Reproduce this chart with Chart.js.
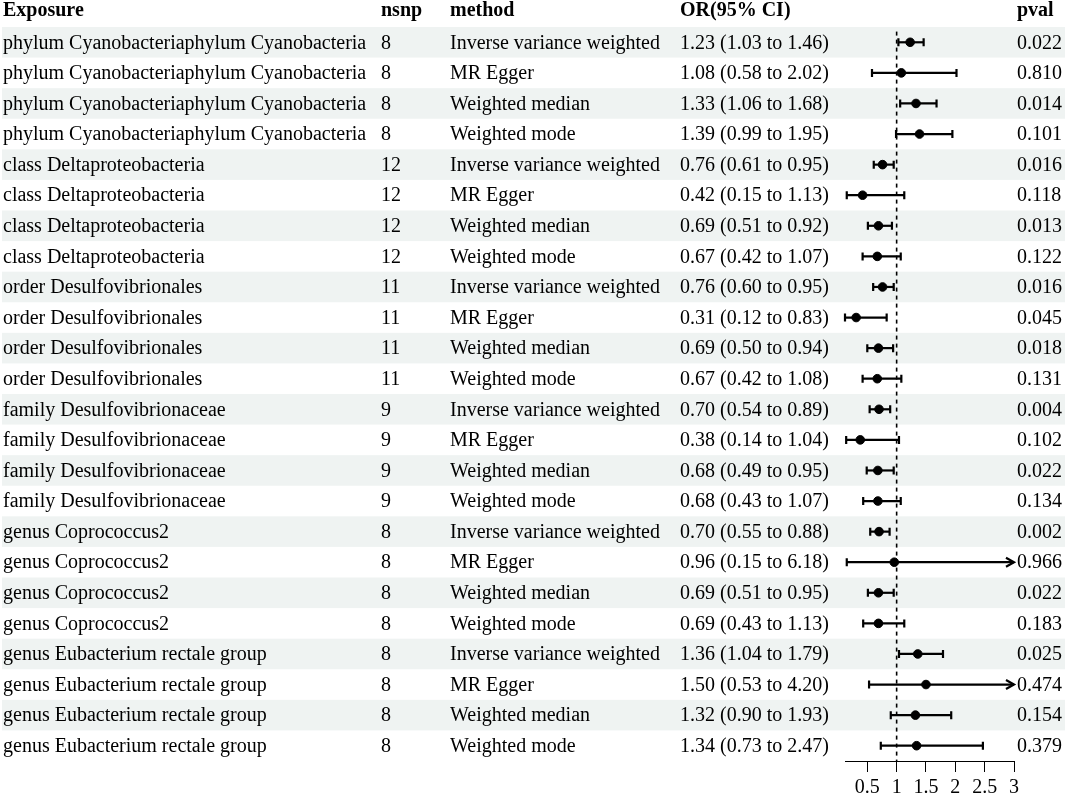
<!DOCTYPE html>
<html>
<head>
<meta charset="utf-8">
<script src="https://cdn.jsdelivr.net/npm/chart.js@4.4.1/dist/chart.umd.min.js"></script>
<style>
html,body{margin:0;padding:0;background:#fff;}
#wrap{width:1065px;height:794px;position:relative;}
</style>
</head>
<body>
<div id="wrap"><canvas id="c" width="1065" height="794"></canvas></div>
<script>
const exposures = [
  "phylum Cyanobacteriaphylum Cyanobacteria","phylum Cyanobacteriaphylum Cyanobacteria","phylum Cyanobacteriaphylum Cyanobacteria","phylum Cyanobacteriaphylum Cyanobacteria",
  "class Deltaproteobacteria","class Deltaproteobacteria","class Deltaproteobacteria","class Deltaproteobacteria",
  "order Desulfovibrionales","order Desulfovibrionales","order Desulfovibrionales","order Desulfovibrionales",
  "family Desulfovibrionaceae","family Desulfovibrionaceae","family Desulfovibrionaceae","family Desulfovibrionaceae",
  "genus Coprococcus2","genus Coprococcus2","genus Coprococcus2","genus Coprococcus2",
  "genus Eubacterium rectale group","genus Eubacterium rectale group","genus Eubacterium rectale group","genus Eubacterium rectale group"
];
const nsnp = [8,8,8,8,12,12,12,12,11,11,11,11,9,9,9,9,8,8,8,8,8,8,8,8];
const methodNames = ["Inverse variance weighted","MR Egger","Weighted median","Weighted mode"];
const methods = [];
for (let g = 0; g < 6; g++) methods.push(...methodNames);
const orValues = [1.23,1.08,1.33,1.39, 0.76,0.42,0.69,0.67, 0.76,0.31,0.69,0.67, 0.70,0.38,0.68,0.68, 0.70,0.96,0.69,0.69, 1.36,1.50,1.32,1.34];
const lowerCI  = [1.03,0.58,1.06,0.99, 0.61,0.15,0.51,0.42, 0.60,0.12,0.50,0.42, 0.54,0.14,0.49,0.43, 0.55,0.15,0.51,0.43, 1.04,0.53,0.90,0.73];
const upperCI  = [1.46,2.02,1.68,1.95, 0.95,1.13,0.92,1.07, 0.95,0.83,0.94,1.08, 0.89,1.04,0.95,1.07, 0.88,6.18,0.95,1.13, 1.79,4.20,1.93,2.47];
const pvals = ["0.022","0.810","0.014","0.101","0.016","0.118","0.013","0.122","0.016","0.045","0.018","0.131","0.004","0.102","0.022","0.134","0.002","0.966","0.022","0.183","0.025","0.474","0.154","0.379"];
const headers = ["Exposure","nsnp","method","OR(95% CI)","pval"];
const tickValues = [0.5,1,1.5,2,2.5,3];
const xMin = 0.12, xMax = 3, refLine = 1;

const FONT = "'Liberation Serif','Times New Roman',serif";
const colX = [3, 381, 450, 680, 1017];
const fmt = v => v.toFixed(2);

const tablePlugin = {
  id: 'forestTable',
  beforeDraw(chart) {
    const ctx = chart.ctx, y = chart.scales.y;
    ctx.save();
    for (let i = 0; i < exposures.length; i++) {
      if (i % 2 === 0) {
        const t = y.getPixelForValue(i - 0.5), b = y.getPixelForValue(i + 0.5);
        ctx.fillStyle = '#eff3f2';
        ctx.fillRect(2, t, 1063, b - t);
      }
    }
    ctx.restore();
  },
  beforeDatasetsDraw(chart) {
    const ctx = chart.ctx, x = chart.scales.x, y = chart.scales.y;
    ctx.save();
    const xr = x.getPixelForValue(refLine);
    ctx.strokeStyle = '#000';
    ctx.lineWidth = 1.6;
    ctx.setLineDash([4, 4]);
    ctx.beginPath();
    ctx.moveTo(xr, y.getPixelForValue(-0.35));
    ctx.lineTo(xr, chart.chartArea.bottom);
    ctx.stroke();
    ctx.setLineDash([]);
    ctx.lineWidth = 2.2;
    for (let i = 0; i < orValues.length; i++) {
      const yc = y.getPixelForValue(i);
      const lo = Math.max(lowerCI[i], xMin), hi = Math.min(upperCI[i], xMax);
      const xl = x.getPixelForValue(lo), xh = x.getPixelForValue(hi);
      ctx.beginPath();
      ctx.moveTo(xl, yc); ctx.lineTo(xh, yc);
      ctx.stroke();
      ctx.beginPath();
      ctx.moveTo(xl, yc - 4); ctx.lineTo(xl, yc + 4);
      if (upperCI[i] > xMax) {
        ctx.moveTo(xh - 8, yc - 4.5); ctx.lineTo(xh, yc); ctx.lineTo(xh - 8, yc + 4.5);
      } else {
        ctx.moveTo(xh, yc - 4); ctx.lineTo(xh, yc + 4);
      }
      ctx.stroke();
    }
    ctx.restore();
  },
  afterDraw(chart) {
    const ctx = chart.ctx, y = chart.scales.y;
    ctx.save();
    ctx.fillStyle = '#000';
    ctx.textBaseline = 'middle';
    ctx.textAlign = 'left';
    ctx.font = 'bold 20px ' + FONT;
    headers.forEach((h, k) => ctx.fillText(h, colX[k], 11));
    ctx.font = '20px ' + FONT;
    for (let i = 0; i < exposures.length; i++) {
      const yc = y.getPixelForValue(i) + 1;
      ctx.fillText(exposures[i], colX[0], yc);
      ctx.fillText(String(nsnp[i]), colX[1], yc);
      ctx.fillText(methods[i], colX[2], yc);
      ctx.fillText(fmt(orValues[i]) + ' (' + fmt(lowerCI[i]) + ' to ' + fmt(upperCI[i]) + ')', colX[3], yc);
      ctx.fillText(pvals[i], colX[4], yc);
    }
    ctx.restore();
  }
};

new Chart(document.getElementById('c'), {
  type: 'scatter',
  data: {
    datasets: [{
      data: orValues.map((v, i) => ({x: v, y: i})),
      backgroundColor: '#000',
      borderColor: '#000',
      pointRadius: 4.3,
      pointHoverRadius: 4.3
    }]
  },
  options: {
    responsive: false,
    animation: false,
    events: [],
    layout: {padding: {left: 845, right: 51, top: 27, bottom: 1}},
    plugins: {legend: {display: false}, tooltip: {enabled: false}},
    scales: {
      x: {
        type: 'linear', position: 'bottom', min: xMin, max: xMax,
        afterBuildTicks: s => { s.ticks = tickValues.map(v => ({value: v})); },
        afterFit: s => { s.height = 32; },
        ticks: {
          color: '#000', padding: 6, maxRotation: 0, autoSkip: false,
          font: {family: FONT, size: 20, lineHeight: 1.0},
          callback: v => String(v)
        },
        grid: {display: true, drawOnChartArea: false, drawTicks: true, tickLength: 11, color: '#000', lineWidth: 1},
        border: {display: true, color: '#000', width: 1}
      },
      y: {type: 'linear', min: -0.5, max: 23.5, reverse: true, display: false}
    }
  },
  plugins: [tablePlugin]
});
</script>
</body>
</html>
